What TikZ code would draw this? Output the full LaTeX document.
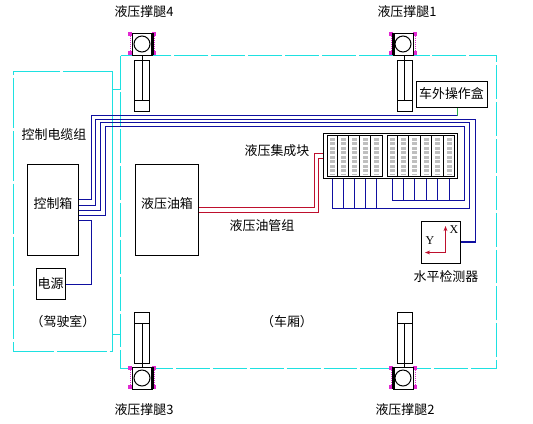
\documentclass[tikz,border=0pt]{standalone}
\usepackage{fontspec}
\setmainfont{Liberation Serif}
\newfontfamily\cjk{Noto Sans CJK SC}
\usetikzlibrary{arrows.meta,calc}
\definecolor{wirecyan}{RGB}{30,225,225}
\definecolor{wireblue}{RGB}{15,15,160}
\definecolor{wirered}{RGB}{190,15,45}
\definecolor{padpink}{RGB}{225,40,210}
\definecolor{wiregreen}{RGB}{40,170,70}
\tikzset{
  >={Stealth[length=1.8mm]},
  lbl/.style={font=\cjk\fontsize{13}{13}\selectfont,inner sep=0pt},
  box/.style={draw=black,line width=1bp,fill=white,inner sep=0pt},
  outline/.style={draw=wirecyan,line width=1.6bp},
  truck/.style={outline,dash pattern=on 34pt off 3pt},
  cable/.style={draw=#1,line width=1.6bp},
  cable/.default=wireblue,
  valve/.style={draw=black!25,line width=4.5pt,dash pattern=on 3pt off 1.5pt},
  pics/leg/.style={code={
    \foreach \a/\b in {-12/-10,12/-10,-12/9,12/9}
      \fill[padpink] (\a-2,\b-2) rectangle (\a+2,\b+2);
    \draw[padpink,densely dotted,line width=1pt] (-12,-10) -- (-12,9) (12,-10) -- (12,9);
    \draw[black,line width=1bp,fill=white] (-10,-11) rectangle (10,11);
    \draw[black,line width=1bp] (0,0) circle (8);
    \fill[black] (#1*10-1.5,-11) rectangle (#1*10+1.5,11);
  }},
  pics/leg/.default=1,
  pics/ram/.style={code={
    \draw[black,line width=1bp] (-7.5,0) rectangle (7.5,51);
    \draw[black,line width=1bp] (-7.5,#1) -- (7.5,#1);
  }},
}
\begin{document}
\begin{tikzpicture}[x=1bp,y=-1bp]
  \useasboundingbox (0,0) rectangle (533,423);
  % cab and truck body
  \draw[outline,dash pattern=on 50pt off 3pt] (112.5,71.5) -- (13.5,71.5) -- (13.5,351.5) -- (112.5,351.5);
  \draw[outline] (120.5,89.5) -- (112.5,89.5) (112.5,334.5) -- (120.5,334.5) (112.5,71.5) -- (112.5,351.5);
  \draw[truck] (120.5,55.5) rectangle (496.5,368.5);
  % legs
  \foreach \x/\y/\s/\n in {142/44/1/a,403/44/-1/b,142/378/1/c,403/378/-1/d}
    \path (\x,\y) pic (leg\n) {leg=\s};
  \path (142,60) pic {ram=40};
  \path (404.5,60) pic {ram=40};
  \path (142,312) pic {ram=11};
  \path (404.5,312) pic {ram=11};
  \draw[line width=1bp] (142,55) -- (142,100) (404.5,55) -- (404.5,100)
    (142,323) -- (142,368) (404.5,323) -- (404.5,368);
  \node[lbl] (legfour) at (144,12) {液压撑腿4};
  \node[lbl] (legone) at (407,12) {液压撑腿1};
  \node[lbl] (legthree) at (144,410) {液压撑腿3};
  \node[lbl] (legtwo) at (405,410) {液压撑腿2};
  % boxes
  \node[box,minimum width=51bp,minimum height=91bp] (ctrl) at (52.5,209.5) {};
  \node[lbl] (ctrltext) at (53,204) {控制箱};
  \node[box,lbl,minimum width=29bp,minimum height=31bp] (power) at (50.5,283.5) {电源};
  \node[box,minimum width=63bp,minimum height=91bp] (tank) at (166.5,209.5) {};
  \node[lbl] (tanktext) at (167,204) {液压油箱};
  \node[box,lbl,minimum width=71bp,minimum height=26bp] (remote) at (451.5,94) {车外操作盒};
  \node[box,minimum width=134bp,minimum height=45bp] (block) at (390,155.5) {};
  \node[box,minimum width=39bp,minimum height=42bp] (level) at (440.5,242) {};
  % valves
  \foreach \i/\x in {0/332,1/343,2/354,3/365,4/376}{
    \coordinate (va\i) at (\x.5,155.5);
    \draw[valve] (\x.5,138) -- (\x.5,174);
  }
  \foreach \i/\x in {0/392,1/403,2/414,3/426,4/437,5/449}{
    \coordinate (vb\i) at (\x.5,155.5);
    \draw[valve] (\x.5,138) -- (\x.5,174);
  }
  \draw[line width=1bp] (327.5,135.5) rectangle (382.5,176.5) (387.5,135.5) rectangle (454.5,176.5);
  \foreach \x in {337.5,348.5,359.5,370.5,397.5,408.5,420.5,431.5,443.5}
    \draw[line width=1bp] (\x,135.5) -- (\x,176.5);
  % cables to the body
  \draw[cable] (ctrl.east |- 0,199.5) -- (91.5,199.5) -- (91.5,115.5) -- (457.5,115.5);
  \draw[cable=wiregreen] (457.5,115.5) -- (remote.south -| 457.5,0);
  \draw[cable] (ctrl.east |- 0,205.5) -- (95.5,205.5) -- (95.5,119.5) -- (475.5,119.5) -- (475.5,242) -- (level.east);
  \draw[cable] (ctrl.east |- 0,210.5) -- (100.5,210.5) -- (100.5,122.5) -- (469.5,122.5) -- (469.5,208.5) -- (va0 |- 0,208.5);
  \draw[cable] (ctrl.east |- 0,215.5) -- (105.5,215.5) -- (105.5,126.5) -- (464.5,126.5) -- (464.5,200.5) -- (vb0 |- 0,200.5);
  \draw[cable] (ctrl.east |- 0,220.5) -- (91.5,220.5) -- (91.5,284.5) -- (power.east |- 0,284.5);
  \foreach \i in {0,...,4}
    \draw[cable] (va\i |- block.south) -- (va\i |- 0,208.5);
  \foreach \i in {0,...,5}
    \draw[cable] (vb\i |- block.south) -- (vb\i |- 0,200.5);
  \draw[cable=wirered] (tank.east |- 0,207.5) -- (314.5,207.5) -- (314.5,153.5) -- (block.west |- 0,153.5);
  \draw[cable=wirered] (tank.east |- 0,212.5) -- (318.5,212.5) -- (318.5,158.5) -- (block.west |- 0,158.5);
  % level axes
  \coordinate (axis) at (445.5,252.5);
  \draw[->,wirered,line width=1.6bp] (axis) -- (445.5,226);
  \draw[->,wirered,line width=1.6bp] (axis) -- (425,252.5);
  \node[font=\fontsize{12}{12}\selectfont,inner sep=0pt] (xlab) at (454,230) {X};
  \node[font=\fontsize{12}{12}\selectfont,inner sep=0pt] (ylab) at (430,241) {Y};
  % labels
  \node[lbl] (cablelab) at (54,135) {控制电缆组};
  \node[lbl] (cablered) at (262,226) {液压油管组};
  \node[lbl] (blocklab) at (277,151) {液压集成块};
  \node[lbl] (levellab) at (446,277) {水平检测器};
  \node[lbl] (cablab) at (63,322) {（驾驶室）};
  \node[lbl] (bodylab) at (287,322) {（车厢）};
\end{tikzpicture}
\end{document}
